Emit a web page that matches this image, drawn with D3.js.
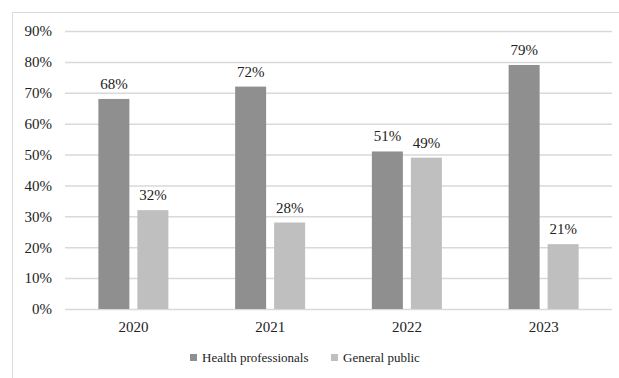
<!DOCTYPE html>
<html><head><meta charset="utf-8">
<script src="https://cdn.jsdelivr.net/npm/d3@7"></script>
<style>body{margin:0;background:#fff}svg{display:block}</style>
</head><body><svg id="c" width="619" height="378" font-family="'Liberation Serif', 'Times New Roman', Times, serif"></svg>
<script>
const categories = ["2020","2021","2022","2023"];
const seriesNames = ["Health professionals","General public"];
const healthValues = [68,72,51,79];
const publicValues = [32,28,49,21];
const yTicks = [0,10,20,30,40,50,60,70,80,90];
const colors = ["#8f8f8f","#bfbfbf"];
const FONT = "'Liberation Serif', 'Times New Roman', Times, serif";

const svg = d3.select("#c");
svg.append("path").attr("d","M12.5,378 V12.5 H619").attr("fill","none").attr("stroke","#d9d9d9");

const x0 = d3.scaleBand().domain(categories).range([65,612]).paddingInner(0).paddingOuter(0);
const y = d3.scaleLinear().domain([0,90]).range([309,31]);
const barW = 31, gap = 8;

const yAxis = d3.axisLeft(y).tickValues(yTicks).tickFormat(d=>d+"%").tickSize(-(612-65)).tickPadding(13);
const gy = svg.append("g").attr("transform","translate(65,0)").call(yAxis);
gy.attr("font-family",FONT).attr("font-size",15);
gy.select(".domain").remove();
gy.selectAll(".tick line").attr("stroke","#d9d9d9").attr("stroke-width",1.5);
gy.selectAll(".tick text").attr("fill","#222");

const xAxis = d3.axisBottom(x0).tickSize(0).tickPadding(12);
const gx = svg.append("g").attr("transform","translate(0,309)").call(xAxis);
gx.attr("font-family",FONT).attr("font-size",15);
gx.select(".domain").remove();
gx.selectAll(".tick text").attr("fill","#222");

const data = categories.map((c,i)=>({c, vals:[healthValues[i],publicValues[i]]}));
data.forEach(d=>{
  const cx = x0(d.c) + x0.bandwidth()/2;
  d.vals.forEach((v,j)=>{
    const bx = j===0 ? cx - gap/2 - barW : cx + gap/2;
    svg.append("rect").attr("x",bx).attr("y",y(v)).attr("width",barW).attr("height",y(0)-y(v)).attr("fill",colors[j]);
    svg.append("text").attr("x",bx+barW/2).attr("y",y(v)-10).attr("text-anchor","middle")
      .attr("font-family",FONT).attr("font-size",15).attr("fill","#222").text(v+"%");
  });
});

const legendItems = [{name:seriesNames[0],x:190},{name:seriesNames[1],x:331}];
legendItems.forEach((l,i)=>{
  svg.append("rect").attr("x",l.x).attr("y",354).attr("width",7).attr("height",7).attr("fill",colors[i]);
  svg.append("text").attr("x",l.x+12).attr("y",362).attr("font-family",FONT).attr("font-size",13).attr("fill","#222").text(l.name);
});
</script></body></html>
